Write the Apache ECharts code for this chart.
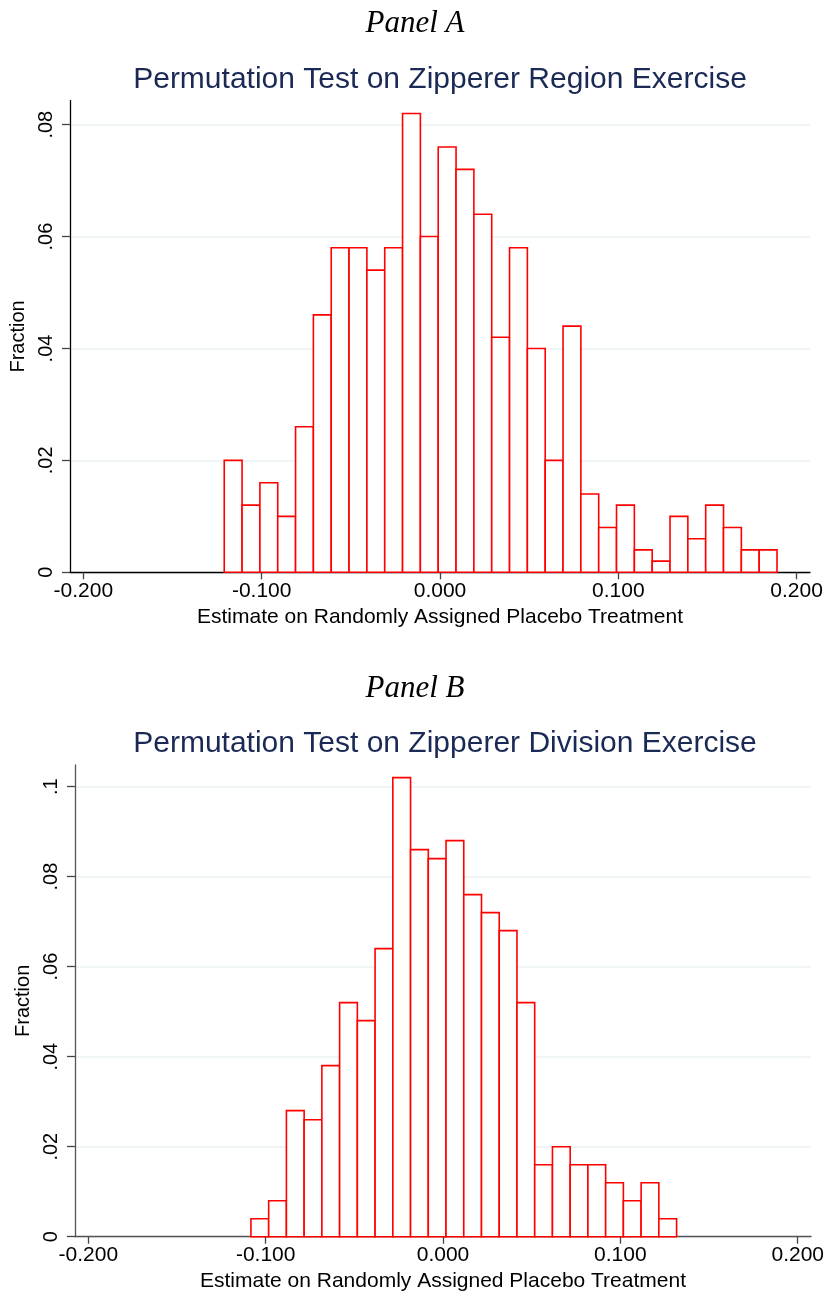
<!DOCTYPE html>
<html>
<head>
<meta charset="utf-8">
<script src="https://cdn.jsdelivr.net/npm/echarts@6/dist/echarts.min.js"></script>
<style>
  html, body { margin: 0; padding: 0; background: #fff; }
  #chart { width: 827px; height: 1293px; }
</style>
</head>
<body>
<div id="chart"></div>
<script>
// Panel A: region exercise, bins of width .01
var binWidth = 0.01;
var binStartA = -0.121;
var fractionA = [0.020, 0.012, 0.016, 0.010, 0.026, 0.046, 0.058, 0.058, 0.054, 0.058,
                 0.082, 0.060, 0.076, 0.072, 0.064, 0.042, 0.058, 0.040, 0.020, 0.044,
                 0.014, 0.008, 0.012, 0.004, 0.002, 0.010, 0.006, 0.012, 0.008, 0.004, 0.004];

// Panel B: division exercise
var binStartB = -0.1083;
var fractionB = [0.004, 0.008, 0.028, 0.026, 0.038, 0.052, 0.048, 0.064, 0.102, 0.086,
                 0.084, 0.088, 0.076, 0.072, 0.068, 0.052, 0.016, 0.020, 0.016, 0.016,
                 0.012, 0.008, 0.012, 0.004];

var xTicks = [-0.2, -0.1, 0, 0.1, 0.2];
var xTickLabels = ['-0.200', '-0.100', '0.000', '0.100', '0.200'];
var yTicksA = [0, 0.02, 0.04, 0.06, 0.08];
var yTickLabelsA = ['0', '.02', '.04', '.06', '.08'];
var yTicksB = [0, 0.02, 0.04, 0.06, 0.08, 0.1];
var yTickLabelsB = ['0', '.02', '.04', '.06', '.08', '.1'];

function bins(start, vals) {
    var out = [];
    for (var i = 0; i < vals.length; i++) {
        out.push([start + i * binWidth, start + (i + 1) * binWidth, vals[i]]);
    }
    return out;
}

function labelFor(ticks, labels) {
    return function (v) {
        for (var i = 0; i < ticks.length; i++) {
            if (Math.abs(ticks[i] - v) < 1e-9) return labels[i];
        }
        return '';
    };
}

function renderBin(params, api) {
    var top = api.coord([api.value(0), api.value(2)]);
    var bot = api.coord([api.value(1), 0]);
    return {
        type: 'rect',
        shape: { x: top[0], y: top[1], width: bot[0] - top[0], height: bot[1] - top[1] },
        style: { fill: '#ffffff', stroke: '#ff0000', lineWidth: 1.6 }
    };
}

var font = 'Liberation Sans';

function xAxisFor(gridIndex, lineColor) {
    return {
        type: 'value',
        gridIndex: gridIndex,
        min: -0.2075,
        max: 0.2075,
        name: 'Estimate on Randomly Assigned Placebo Treatment',
        nameLocation: 'middle',
        nameGap: 34,
        nameTextStyle: { fontFamily: font, fontSize: 21, color: '#000' },
        axisLine: { show: true, onZero: false, lineStyle: { color: lineColor, width: 1.3 } },
        axisTick: { show: true, length: 7, customValues: xTicks, lineStyle: { color: '#444', width: 1.3 } },
        axisLabel: { customValues: xTicks, margin: 8, fontFamily: font, fontSize: 21, color: '#000',
                     formatter: labelFor(xTicks, xTickLabels) },
        splitLine: { show: false }
    };
}

function yAxisFor(gridIndex, max, ticks, labels, lineColor) {
    return {
        type: 'value',
        gridIndex: gridIndex,
        min: 0,
        max: max,
        name: 'Fraction',
        nameLocation: 'middle',
        nameRotate: 90,
        nameGap: 37,
        nameTextStyle: { fontFamily: font, fontSize: 20, color: '#000' },
        axisLine: { show: true, onZero: false, lineStyle: { color: lineColor, width: 1.3 } },
        axisTick: { show: true, length: 8, customValues: ticks, lineStyle: { color: '#444', width: 1.3 } },
        axisLabel: { customValues: ticks, rotate: 90, margin: 14, fontFamily: font, fontSize: 20, color: '#000',
                     formatter: labelFor(ticks, labels) },
        splitLine: { show: true, lineStyle: { color: '#eaf0f3', width: 1.5 } }
    };
}

var myChart = echarts.init(document.getElementById('chart'), null, { renderer: 'canvas' });

var panelStyle = { fontFamily: 'Liberation Serif', fontStyle: 'italic', fontWeight: 'normal', fontSize: 31, color: '#000' };
var titleStyle = { fontFamily: font, fontWeight: 'normal', fontSize: 30, color: '#1a2a55' };

var option = {
    backgroundColor: '#fff',
    animation: false,
    title: [
        { text: 'Panel A', left: 410, top: 3, textAlign: 'center', textStyle: panelStyle },
        { text: 'Permutation Test on Zipperer Region Exercise', left: 435, top: 60, textAlign: 'center', textStyle: titleStyle },
        { text: 'Panel B', left: 410, top: 668, textAlign: 'center', textStyle: panelStyle },
        { text: 'Permutation Test on Zipperer Division Exercise', left: 440, top: 724, textAlign: 'center', textStyle: titleStyle }
    ],
    grid: [
        { left: 70, right: 17, top: 100.6, height: 471.7 },
        { left: 75, right: 12, top: 765, height: 471.7 }
    ],
    xAxis: [xAxisFor(0, '#000'), xAxisFor(1, '#555')],
    yAxis: [
        yAxisFor(0, 0.0843, yTicksA, yTickLabelsA, '#000'),
        yAxisFor(1, 0.1048, yTicksB, yTickLabelsB, '#555')
    ],
    series: [
        { type: 'custom', xAxisIndex: 0, yAxisIndex: 0, renderItem: renderBin,
          encode: { x: [0, 1], y: 2 }, data: bins(binStartA, fractionA) },
        { type: 'custom', xAxisIndex: 1, yAxisIndex: 1, renderItem: renderBin,
          encode: { x: [0, 1], y: 2 }, data: bins(binStartB, fractionB) }
    ]
};

myChart.setOption(option);
window.onresize = myChart.resize;
</script>
</body>
</html>
